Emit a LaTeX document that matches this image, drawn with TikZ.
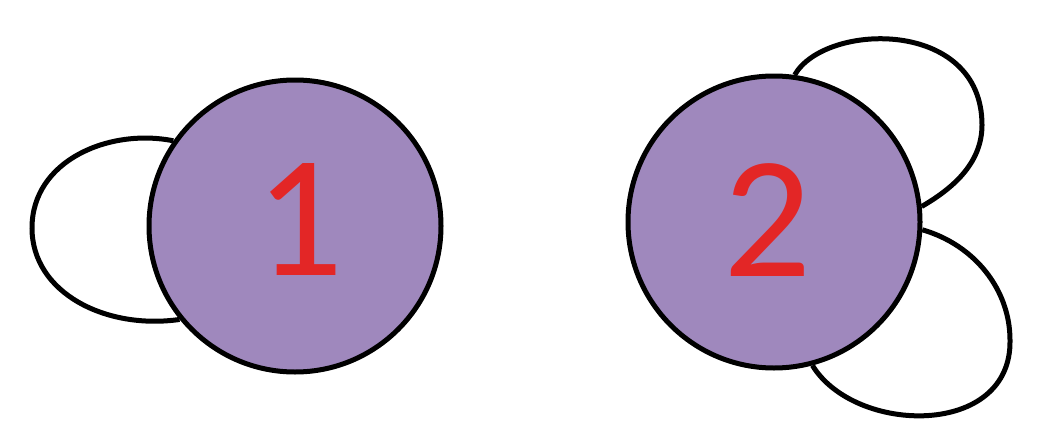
\documentclass[tikz,border=0pt]{standalone}
\usepackage{fontspec}
\setmainfont{Carlito}
\usetikzlibrary{backgrounds}
\definecolor{nodefill}{RGB}{159,136,189}
\definecolor{digitred}{RGB}{227,38,38}
\tikzset{
  state/.style={circle, draw=black, fill=nodefill, line width=5pt, minimum size=292pt, inner sep=0pt},
  digit/.style={text=digitred, font=\fontsize{174}{174}\selectfont, inner sep=0pt},
  loopline/.style={draw=black, line width=5pt}
}
\begin{document}
\begin{tikzpicture}[x=1pt,y=-1pt]
\useasboundingbox (0,0) rectangle (1052,447);
\node[state] (n1) at (295,226) {};
\node[state] (n2) at (774,222) {};
\node[digit] (t1) at (300,220) {1};
\node[digit] (t2) at (768,220) {2};
\begin{pgfonlayer}{background}
\draw[loopline] (n1.145) .. controls (110,128) and (32,160) .. (32,228)
  .. controls (32,293) and (106,330) .. (n1.219);
\draw[loopline] (n2.82) .. controls (825,22) and (982,18) .. (982,125)
  .. controls (982,165) and (950,190) .. (n2.6);
\draw[loopline] (n2.357) .. controls (975,245) and (1010,290) .. (1010,340)
  .. controls (1012,438) and (855,435) .. (n2.285);
\end{pgfonlayer}
\end{tikzpicture}
\end{document}
